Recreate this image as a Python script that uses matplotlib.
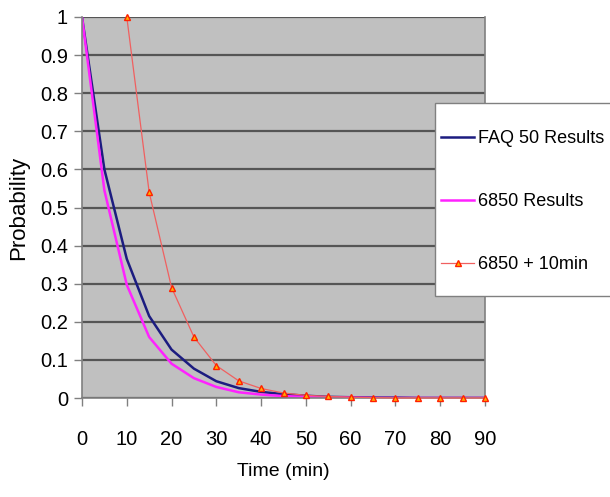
import matplotlib
matplotlib.use("Agg")
import matplotlib.pyplot as plt
from matplotlib.patches import Rectangle

plt.rcParams['font.family'] = ['Liberation Sans', 'DejaVu Sans']

time_min = [0, 5, 10, 15, 20, 25, 30, 35, 40, 45, 50, 55, 60, 65, 70, 75, 80, 85, 90]
faq50 = [1.0, 0.60, 0.365, 0.215, 0.127, 0.077, 0.044, 0.026, 0.016, 0.010, 0.006,
         0.003, 0.002, 0.001, 0.001, 0.0, 0.0, 0.0, 0.0]
res6850 = [1.0, 0.545, 0.297, 0.16, 0.09, 0.052, 0.029, 0.015, 0.009, 0.005, 0.003,
           0.002, 0.001, 0.0, 0.0, 0.0, 0.0, 0.0, 0.0]
time_plus10 = [10, 15, 20, 25, 30, 35, 40, 45, 50, 55, 60, 65, 70, 75, 80, 85, 90]
res6850_plus10 = [1.0, 0.54, 0.29, 0.16, 0.085, 0.045, 0.025, 0.013, 0.007, 0.004,
                  0.002, 0.001, 0.0, 0.0, 0.0, 0.0, 0.0]

W, H = 610, 497
fig = plt.figure(figsize=(W / 100, H / 100), dpi=100)
ax = fig.add_axes([82/W, 1-398/H, (485-82)/W, (398-17)/H])
ax.set_facecolor('#C0C0C0')

ax.plot(time_min, faq50, color='#1C1C80', lw=1.8, label='FAQ 50 Results')
ax.plot(time_min, res6850, color='#FF22FF', lw=1.8, label='6850 Results')
ax.plot(time_plus10, res6850_plus10, color='#F06060', lw=0.9, marker='^',
        markersize=5, markerfacecolor='#FFB000', markeredgecolor='#FF2000',
        markeredgewidth=1.0, label='6850 + 10min', clip_on=False, zorder=5)

ax.set_xlim(0, 90)
ax.set_ylim(0, 1)
ax.set_xticks(range(0, 91, 10))
ax.set_yticks([i / 10 for i in range(11)])
ax.set_yticklabels(['0', '0.1', '0.2', '0.3', '0.4', '0.5', '0.6', '0.7', '0.8', '0.9', '1'])
ax.yaxis.grid(True, color='#555555', lw=1.6)
ax.set_axisbelow(True)

ax.spines['top'].set_visible(False)
for side in ['left', 'bottom', 'right']:
    ax.spines[side].set_color('#808080')
    ax.spines[side].set_linewidth(1.2)

ax.tick_params(axis='both', labelsize=14.5, colors='#808080', labelcolor='black',
               length=6, width=1)
ax.tick_params(axis='x', pad=17)
ax.tick_params(axis='y', pad=4)

ax.set_xlabel('Time (min)', fontsize=14, labelpad=10)
ax.set_ylabel('Probability', fontsize=16, labelpad=8)

# Legend box (white panel running off the right edge)
fig.patches.append(Rectangle((435/W, 1-296/H), (W+10-435)/W, (296-103)/H,
                             transform=fig.transFigure, facecolor='white',
                             edgecolor='#808080', lw=1.0, zorder=3))

leg = fig.legend(loc='upper left', bbox_to_anchor=(441/W, 1-130/H),
                 fontsize=13, frameon=False, labelspacing=2.55, borderpad=0,
                 handlelength=1.85, handletextpad=0.2, borderaxespad=0,
                 markerscale=0.8)
leg.set_zorder(4)

fig.savefig('out.png', dpi=100)
